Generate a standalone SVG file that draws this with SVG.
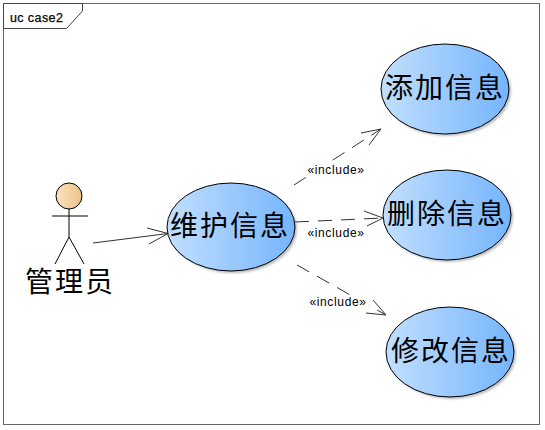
<svg xmlns="http://www.w3.org/2000/svg" width="545" height="430" viewBox="0 0 545 430">
<style>
.uc{stroke:#000;stroke-width:1;fill:url(#g)}
.shadow{fill:#888;opacity:.55;filter:url(#b)}
.cjk{font-family:"Noto Sans CJK SC","Noto Sans",sans-serif;font-size:28px;font-weight:400;letter-spacing:2px;fill:#000;text-anchor:middle}
.lab{font-family:"Liberation Sans",Arial,sans-serif;font-size:12px;letter-spacing:.65px;fill:#000;text-anchor:middle}
.dash{fill:none;stroke:#333;stroke-width:1;stroke-dasharray:14 9}
.head{fill:none;stroke:#333;stroke-width:1}
.act{fill:none;stroke:#000;stroke-width:1}
</style>
<defs>
<linearGradient id="g" x1="0" y1="0" x2="1" y2="0"><stop offset="0" stop-color="#c2dffe"/><stop offset="1" stop-color="#75b5fd"/></linearGradient>
<linearGradient id="h" x1="0" y1="0" x2="1" y2="0"><stop offset="0" stop-color="#fbe3bd"/><stop offset="1" stop-color="#eec28a"/></linearGradient>
<filter id="b" x="-10%" y="-10%" width="120%" height="120%"><feGaussianBlur stdDeviation="1"/></filter>
</defs>
<rect width="545" height="430" fill="#fff"/>
<g id="frame">
<rect x="3.5" y="3.5" width="536" height="421" fill="#fff" stroke="#666"/>
<path d="M3.5 3.5H82.5V11L66.5 28.5H3.500Z" fill="#fff" stroke="#444"/>
<text x="10" y="22" font-family="Liberation Sans,Arial,sans-serif" font-size="12.500" letter-spacing=".4" fill="#000" stroke="#000" stroke-width=".25">uc case2</text>
</g>
<g id="connectors">
<path d="M93 243L168 233.500" class="head"/>
<path d="M147 228L168 233.500L149 244" class="head"/>
<path d="M294 185L381 129" class="dash"/>
<path d="M361 133L381 129L369 145" class="head"/>
<path d="M295 222L383 218" class="dash"/>
<path d="M364 211L383 218L367 226" class="head"/>
<path d="M297 265L386 315" class="dash"/>
<path d="M373 300L386 315L366 313" class="head"/>
</g>
<g id="label1"><rect x="307" y="162" width="58" height="15" fill="#fff"/><text x="336" y="174" class="lab">«include»</text></g>
<g id="label2"><text x="336" y="237" class="lab">«include»</text></g>
<g id="label3"><rect x="309" y="296" width="60" height="14" fill="#fff"/><text x="338" y="306" class="lab">«include»</text></g>
<g id="actor">
<circle cx="69" cy="196" r="13" fill="url(#h)" stroke="#000"/>
<path d="M69 209V237M52 216H88M69 237L55 264M69 237L84 264" class="act"/>
<text x="70" y="292" class="cjk" style="letter-spacing:2px">管理员</text>
</g>
<g id="uc-main">
<ellipse cx="233" cy="229" rx="64" ry="44" class="shadow"/>
<ellipse cx="231" cy="227" rx="64" ry="44" class="uc"/>
<text x="230" y="236" class="cjk">维护信息</text>
</g>
<g id="uc-add">
<ellipse cx="447" cy="91" rx="64" ry="45" class="shadow"/>
<ellipse cx="445" cy="89" rx="64" ry="45" class="uc"/>
<text x="445" y="98" class="cjk">添加信息</text>
</g>
<g id="uc-del">
<ellipse cx="449" cy="217" rx="64" ry="45" class="shadow"/>
<ellipse cx="447" cy="215" rx="64" ry="45" class="uc"/>
<text x="447" y="224" class="cjk">删除信息</text>
</g>
<g id="uc-edit">
<ellipse cx="452" cy="354" rx="64" ry="45" class="shadow"/>
<ellipse cx="450" cy="352" rx="64" ry="45" class="uc"/>
<text x="451" y="361" class="cjk">修改信息</text>
</g>
</svg>
